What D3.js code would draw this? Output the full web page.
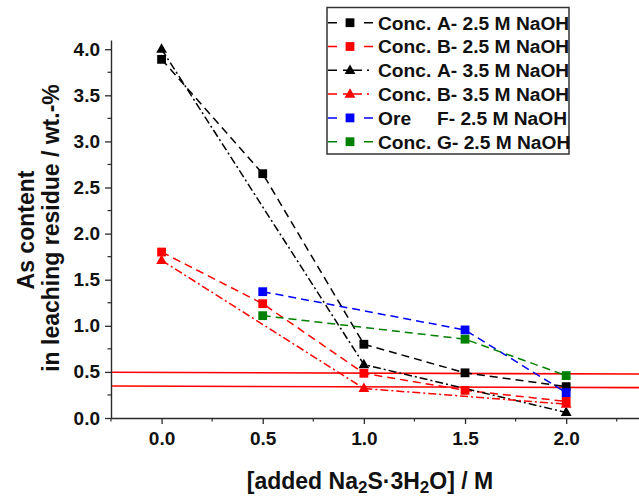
<!DOCTYPE html>
<html>
<head>
<meta charset="utf-8">
<script src="https://cdn.jsdelivr.net/npm/d3@7"></script>
<style>
  body { margin: 0; background: #fff; }
  svg { display: block; font-family: "Liberation Sans", Arial, sans-serif; }
</style>
</head>
<body>
<svg id="chart" width="639" height="499"></svg>
<script>
// ---- data ----
const xFull = [0, 0.5, 1.0, 1.5, 2.0];
const xSparse = [0, 1.0, 2.0];
const xLate = [0.5, 1.5, 2.0];
const concA25 = [3.89, 2.65, 0.80, 0.49, 0.34];
const concB25 = [1.80, 1.24, 0.485, 0.30, 0.18];
const concA35 = [4.00, 0.58, 0.06];
const concB35 = [1.71, 0.32, 0.15];
const oreF25 = [1.37, 0.955, 0.275];
const concG25 = [1.11, 0.855, 0.46];
const legendPrefix = ["Conc.", "Conc.", "Conc.", "Conc.", "Ore", "Conc."];
const legendRest = ["A- 2.5 M NaOH", "B- 2.5 M NaOH", "A- 3.5 M NaOH", "B- 3.5 M NaOH", "F- 2.5 M NaOH", "G- 2.5 M NaOH"];
const limitLines = [[0.496, 0.477], [0.347, 0.329]];
const xTicks = [0, 0.5, 1.0, 1.5, 2.0];
const yTicks = [0, 0.5, 1.0, 1.5, 2.0, 2.5, 3.0, 3.5, 4.0];

const series = [
  { xs: xFull,   ys: concA25, color: "#000000", shape: "square",   dash: "dash" },
  { xs: xFull,   ys: concB25, color: "#ff0000", shape: "square",   dash: "dash" },
  { xs: xSparse, ys: concA35, color: "#000000", shape: "triangle", dash: "dashdot" },
  { xs: xSparse, ys: concB35, color: "#ff0000", shape: "triangle", dash: "dashdot" },
  { xs: xLate,   ys: oreF25,  color: "#0000ff", shape: "square",   dash: "dash" },
  { xs: xLate,   ys: concG25, color: "#008000", shape: "square",   dash: "dash" }
];

const svg = d3.select("#chart");
const x = d3.scaleLinear().domain([-0.25, 2.36]).range([111, 639]);
const y = d3.scaleLinear().domain([0, 4.1]).range([418, 40]);

const dashArr = { dash: "8,5", dashdot: "8,3,2,3" };
const axisColor = "#2a2a2a";

// limit lines (red horizontal)
limitLines.forEach(v => {
  svg.append("line")
    .attr("x1", x(-0.25)).attr("x2", x(2.36))
    .attr("y1", y(v[0])).attr("y2", y(v[1]))
    .attr("stroke", "#ff0000").attr("stroke-width", 1.6);
});

// axes
const xAxis = d3.axisBottom(x).tickValues(xTicks).tickFormat(d3.format(".1f"))
  .tickSize(6).tickSizeOuter(0).tickPadding(8);
const gx = svg.append("g").attr("transform", `translate(0,${y(0)})`).call(xAxis);
const yAxis = d3.axisLeft(y).tickValues(yTicks).tickFormat(d3.format(".1f"))
  .tickSize(6).tickSizeOuter(0).tickPadding(5);
const gy = svg.append("g").attr("transform", `translate(${x(-0.25)},0)`).call(yAxis);
[gx, gy].forEach(g => {
  g.selectAll("path.domain").attr("stroke", axisColor).attr("stroke-width", 1.4);
  g.selectAll(".tick line").attr("stroke", axisColor).attr("stroke-width", 1.3);
  g.selectAll(".tick text").attr("fill", "#111").style("font-size", "19px").style("font-weight", "bold");
});
// minor ticks
const xMinor = [-0.25, 0.25, 0.75, 1.25, 1.75, 2.25];
gx.selectAll(".minor").data(xMinor).enter().append("line")
  .attr("x1", d => x(d)).attr("x2", d => x(d)).attr("y1", 0).attr("y2", 3.5)
  .attr("stroke", axisColor).attr("stroke-width", 1.2);
const yMinor = d3.range(0.25, 4.1, 0.5);
gy.selectAll(".minor").data(yMinor).enter().append("line")
  .attr("y1", d => y(d)).attr("y2", d => y(d)).attr("x1", 0).attr("x2", -3.5)
  .attr("stroke", axisColor).attr("stroke-width", 1.2);

// series lines
const line = d3.line().x(d => x(d[0])).y(d => y(d[1]));
series.forEach(s => {
  const pts = s.xs.map((xv, i) => [xv, s.ys[i]]);
  svg.append("path").datum(pts).attr("d", line)
    .attr("fill", "none").attr("stroke", s.color).attr("stroke-width", 1.5)
    .attr("stroke-dasharray", dashArr[s.dash]);
});

function drawMarker(g, cx, cy, s) {
  if (s.shape === "square") {
    g.append("rect").attr("x", cx - 4.4).attr("y", cy - 4.4).attr("width", 8.8).attr("height", 8.8)
      .attr("fill", s.color);
  } else {
    const h = 9.5;
    g.append("path")
      .attr("d", `M${cx},${cy - h * 0.62}L${cx + 5.4},${cy + h * 0.38}L${cx - 5.4},${cy + h * 0.38}Z`)
      .attr("fill", s.color);
  }
}
series.forEach(s => {
  const g = svg.append("g");
  s.xs.forEach((xv, i) => drawMarker(g, x(xv), y(s.ys[i]), s));
});

// legend
const lg = svg.append("g");
lg.append("rect").attr("x", 327).attr("y", 7.5).attr("width", 242).attr("height", 146.5)
  .attr("fill", "#fff").attr("stroke", "#333").attr("stroke-width", 1.5);
const legendDash = { dash: "9 9 6 12 9", dashdot: "9 6 19 5 2 30" };
series.forEach((s, i) => {
  const cy = 22.7 + i * 23.8;
  lg.append("line").attr("x1", 328).attr("x2", 373).attr("y1", cy).attr("y2", cy)
    .attr("stroke", s.color).attr("stroke-width", 1.5).attr("stroke-dasharray", legendDash[s.dash]);
  drawMarker(lg, 350, cy, s);
  const t = lg.append("text").attr("y", cy + 6.8).style("font-size", "19.2px").style("font-weight", "bold").attr("fill", "#111");
  t.append("tspan").attr("x", 378).text(legendPrefix[i]);
  t.append("tspan").attr("x", 437).text(legendRest[i]);
});

// axis titles
const xt = svg.append("text").attr("x", 370).attr("y", 489).attr("text-anchor", "middle")
  .style("font-size", "23px").style("font-weight", "bold").attr("fill", "#111");
xt.append("tspan").text("[added Na");
xt.append("tspan").text("2").attr("dy", 4).style("font-size", "17px");
xt.append("tspan").text("S·3H").attr("dy", -4);
xt.append("tspan").text("2").attr("dy", 4).style("font-size", "17px");
xt.append("tspan").text("O] / M").attr("dy", -4);

const yt = svg.append("g").attr("transform", "translate(0,230) rotate(-90)");
yt.append("text").attr("x", 0).attr("y", 34).attr("text-anchor", "middle")
  .style("font-size", "23px").style("font-weight", "bold").attr("fill", "#111").text("As content");
yt.append("text").attr("x", 2).attr("y", 59).attr("text-anchor", "middle")
  .style("font-size", "23px").style("font-weight", "bold").attr("fill", "#111").text("in leaching residue / wt.-%");
</script>
</body>
</html>
